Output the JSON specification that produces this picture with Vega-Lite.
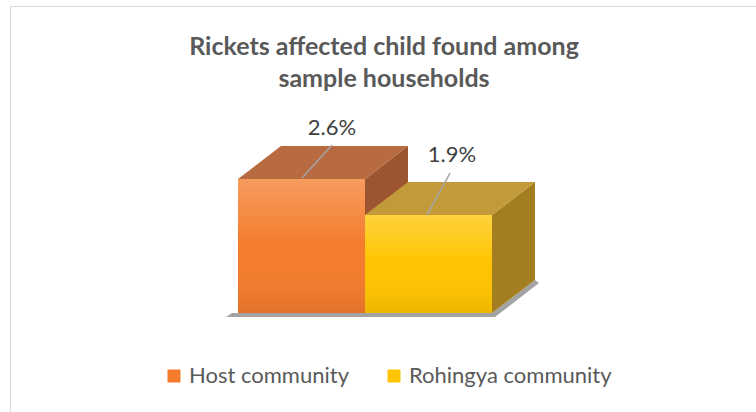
{
  "$schema": "https://vega.github.io/schema/vega-lite/v6.json",
  "width": 760,
  "height": 410,
  "autosize": {"type": "none"},
  "padding": {"left": 10, "top": 6, "right": 0, "bottom": 0},
  "background": "white",
  "config": {"view": {"stroke": "#D9D9D9", "strokeWidth": 1}, "font": "Lato"},
  "title": {
    "text": ["Rickets affected child found among", "sample households"],
    "anchor": "middle",
    "frame": "group",
    "font": "Lato",
    "fontSize": 25,
    "fontWeight": "bold",
    "color": "#595959",
    "baseline": "top",
    "offset": -86,
    "lineHeight": 32,
    "dx": -6
  },
  "data": {
    "values": [
      {"community": "Host community", "value": 0.026},
      {"community": "Rohingya community", "value": 0.019}
    ]
  },
  "encoding": {
    "x": {
      "field": "community",
      "type": "nominal",
      "sort": null,
      "scale": {
        "domain": ["_padL", "Host community", "Rohingya community", "_padR"],
        "paddingInner": 0,
        "paddingOuter": 0.992,
        "align": 0.4008,
        "round": false
      },
      "axis": null
    },
    "y": {
      "field": "value",
      "type": "quantitative",
      "scale": {"domain": [-0.01998, 0.05955], "nice": false, "zero": false},
      "axis": null
    }
  },
  "resolve": {"scale": {"fill": "independent", "shape": "independent"}},
  "layer": [
    {
      "transform": [{"filter": "datum.community === 'Host community'"}],
      "mark": {
        "type": "point",
        "filled": true,
        "opacity": 0.6,
        "size": 10000,
        "strokeWidth": 0,
        "fill": "#666666",
        "shape": "M-1.51 0.08 L3.87 0.08 L4.75 -0.6 L4.67 -0.66 L3.81 0 L-1.39 0 Z"
      },
      "encoding": {"y": {"datum": 0}}
    },
    {
      "mark": {"type": "point", "filled": true, "opacity": 1, "size": 10000, "strokeWidth": 0},
      "encoding": {
        "shape": {
          "field": "community",
          "type": "nominal",
          "scale": {
            "domain": ["Host community", "Rohingya community"],
            "range": [
              "M1.27 0 L2.13 -0.66 L2.13 2.02 L1.27 2.68 Z",
              "M1.27 0 L2.13 -0.66 L2.13 1.3 L1.27 1.96 Z"
            ]
          },
          "legend": null
        },
        "fill": {
          "field": "community",
          "type": "nominal",
          "scale": {"domain": ["Host community", "Rohingya community"], "range": ["#9C5530", "#A27E20"]},
          "legend": null
        }
      }
    },
    {
      "mark": {
        "type": "point",
        "filled": true,
        "opacity": 1,
        "size": 10000,
        "strokeWidth": 0,
        "shape": "M-1.27 0 L1.27 0 L2.13 -0.66 L-0.41 -0.66 Z"
      },
      "encoding": {
        "fill": {
          "field": "community",
          "type": "nominal",
          "scale": {"domain": ["Host community", "Rohingya community"], "range": ["#B86A40", "#C29A3A"]},
          "legend": null
        }
      }
    },
    {
      "mark": {"type": "bar", "strokeWidth": 0},
      "encoding": {
        "y2": {"datum": 0},
        "color": {
          "field": "community",
          "type": "nominal",
          "scale": {"domain": ["Host community", "Rohingya community"], "range": ["#F47C2C", "#FFC400"]},
          "legend": {
            "orient": "none",
            "legendX": 153,
            "legendY": 359,
            "direction": "horizontal",
            "title": null,
            "symbolType": "square",
            "symbolSize": 169,
            "symbolStrokeWidth": 0,
            "labelFontSize": 22,
            "labelColor": "#595959",
            "labelFont": "Lato",
            "labelOffset": 4,
            "labelLimit": 400,
            "columnPadding": 34
          }
        }
      }
    },
    {
      "mark": {
        "type": "bar",
        "strokeWidth": 0,
        "fill": {
          "gradient": "linear",
          "x1": 0, "y1": 0, "x2": 0, "y2": 1,
          "stops": [
            {"offset": 0, "color": "rgba(255,255,255,0.24)"},
            {"offset": 0.5, "color": "rgba(255,255,255,0)"},
            {"offset": 1, "color": "rgba(0,0,0,0.07)"}
          ]
        }
      },
      "encoding": {"y2": {"datum": 0}}
    },
    {
      "mark": {"type": "point", "filled": false, "opacity": 1, "size": 10000, "strokeWidth": 1.5, "color": "#A6A6A6"},
      "encoding": {
        "shape": {
          "field": "community",
          "type": "nominal",
          "scale": {
            "domain": ["Host community", "Rohingya community"],
            "range": ["M0.01 -0.02 L0.61 -0.68", "M-0.03 0 L0.43 -0.84"]
          },
          "legend": null
        }
      }
    },
    {
      "transform": [{"filter": "datum.community === 'Host community'"}],
      "mark": {"type": "text", "dx": 30.5, "dy": -51, "baseline": "middle", "align": "center", "fontSize": 22, "font": "Lato", "color": "#404040"},
      "encoding": {"text": {"field": "value", "type": "quantitative", "format": ".1%"}}
    },
    {
      "transform": [{"filter": "datum.community === 'Rohingya community'"}],
      "mark": {"type": "text", "dx": 23.5, "dy": -60, "baseline": "middle", "align": "center", "fontSize": 22, "font": "Lato", "color": "#404040"},
      "encoding": {"text": {"field": "value", "type": "quantitative", "format": ".1%"}}
    }
  ]
}
